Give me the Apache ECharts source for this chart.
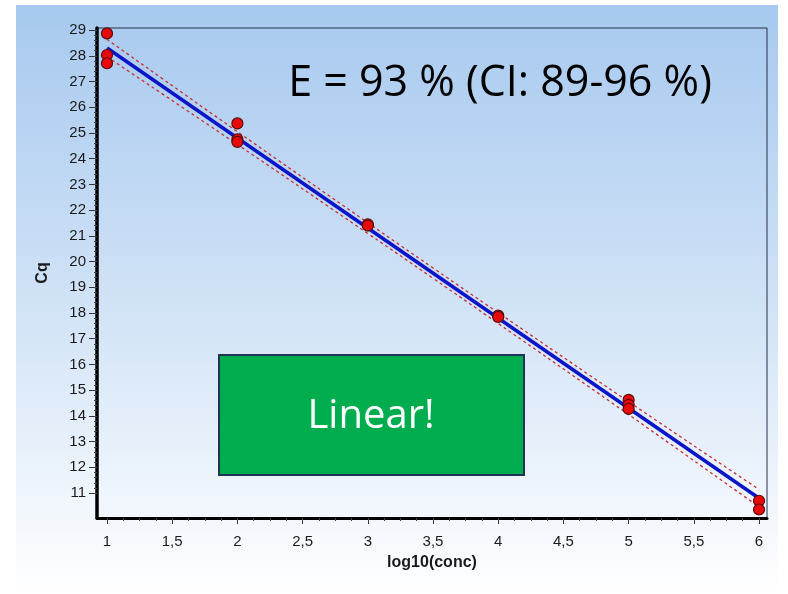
<!DOCTYPE html>
<html>
<head>
<meta charset="utf-8">
<script src="https://cdn.jsdelivr.net/npm/echarts@6/dist/echarts.min.js"></script>
<style>html,body{margin:0;padding:0;background:#fff}#c{width:788px;height:594px}</style>
</head>
<body>
<div id="c"></div>
<script>
// ---- data ----
const pointsX = [1, 1, 1, 2, 2, 2, 3, 3, 4, 4, 5, 5, 5, 6, 6];
const pointsCq = [28.87, 28.03, 27.71, 25.37, 24.75, 24.65, 21.45, 21.40, 17.90, 17.85, 14.62, 14.43, 14.27, 10.70, 10.36];
const fitX = [1, 6];
const fitCq = [28.30, 10.80];
const bandX = [1, 2, 3, 3.5, 4, 5, 6];
const bandUpper = [28.64, 25.05, 21.51, 19.75, 18.01, 14.55, 11.14];
const bandLower = [27.96, 24.55, 21.09, 19.35, 17.59, 14.05, 10.46];
const xTicks = [1, 1.5, 2, 2.5, 3, 3.5, 4, 4.5, 5, 5.5, 6];
const yTicks = [11, 12, 13, 14, 15, 16, 17, 18, 19, 20, 21, 22, 23, 24, 25, 26, 27, 28, 29];
const xMinorTicks = [];
for (let i = 0; i <= 40; i++) xMinorTicks.push(1 + i * 0.125);
const yMinorTicks = [];
for (let i = 0; i <= 90; i++) yMinorTicks.push(11 + i * 0.2);
const annotationText = 'E = 93 % (CI: 89-96 %)';
const boxText = 'Linear!';
const xName = 'log10(conc)';
const yName = 'Cq';

const zip = (a, b) => a.map((v, i) => [v, b[i]]);
const fmt = v => String(v).replace('.', ',');

const chart = echarts.init(document.getElementById('c'));
const X_MIN = 0.9233, X_MAX = 6.061, Y_MIN = 10.03, Y_MAX = 29.08;
const labelFont = { fontFamily: 'Liberation Sans', fontSize: 15, color: '#1a1a1a' };

chart.setOption({
  animation: false,
  backgroundColor: '#ffffff',
  graphic: [
    { type: 'rect', z: -10, shape: { x: 16, y: 5, width: 762, height: 589 },
      style: { fill: new echarts.graphic.LinearGradient(0, 0, 0, 1, [
        { offset: 0, color: '#a7c9ef' }, { offset: 0.5, color: '#d0e2f6' }, { offset: 1, color: '#ffffff' }]) } },
    { type: 'rect', z: 100, shape: { x: 219, y: 355, width: 305, height: 120 },
      style: { fill: '#00ad4e', stroke: '#1f3458', lineWidth: 2 } },
    { type: 'text', z: 101, x: 371, y: 417,
      style: { text: boxText, fill: '#ffffff', font: '40px "Open Sans"', textAlign: 'center', textVerticalAlign: 'middle' } },
    { type: 'text', z: 101, x: 500, y: 84,
      style: { text: annotationText, fill: '#000000', font: '43px "Open Sans"', textAlign: 'center', textVerticalAlign: 'middle' } }
  ],
  grid: { left: 97, top: 28, right: 21, bottom: 76, show: true, borderColor: '#26304a', borderWidth: 1, backgroundColor: 'transparent' },
  xAxis: [
    { type: 'value', min: X_MIN, max: X_MAX, position: 'bottom',
      name: xName, nameLocation: 'middle', nameGap: 37,
      nameTextStyle: { fontFamily: 'Liberation Sans', fontWeight: 'bold', fontSize: 16, color: '#1a1a1a' },
      axisLine: { show: true, onZero: false, lineStyle: { color: '#000', width: 3 } },
      axisTick: { show: true, length: 6, customValues: xTicks, lineStyle: { color: '#333', width: 1 } },
      axisLabel: { show: true, margin: 16, customValues: xTicks, formatter: fmt, ...labelFont },
      splitLine: { show: false } },
    { type: 'value', min: X_MIN, max: X_MAX, position: 'bottom',
      axisLine: { show: false, onZero: false },
      axisTick: { show: true, length: 3, customValues: xMinorTicks, lineStyle: { color: '#444', width: 1 } },
      axisLabel: { show: false }, splitLine: { show: false } }
  ],
  yAxis: [
    { type: 'value', min: Y_MIN, max: Y_MAX, position: 'left',
      name: yName, nameLocation: 'middle', nameGap: 46, nameRotate: 90,
      nameTextStyle: { fontFamily: 'Liberation Sans', fontWeight: 'bold', fontSize: 16, color: '#1a1a1a' },
      axisLine: { show: true, onZero: false, lineStyle: { color: '#000', width: 3.5 } },
      axisTick: { show: true, length: 8, customValues: yTicks, lineStyle: { color: '#333', width: 1 } },
      axisLabel: { show: true, margin: 11, customValues: yTicks, ...labelFont },
      splitLine: { show: false } },
    { type: 'value', min: Y_MIN, max: Y_MAX, position: 'left',
      axisLine: { show: false, onZero: false },
      axisTick: { show: true, length: 3, customValues: yMinorTicks, lineStyle: { color: '#444', width: 1 } },
      axisLabel: { show: false }, splitLine: { show: false } }
  ],
  series: [
    { type: 'line', data: zip(bandX, bandUpper), showSymbol: false, smooth: true, z: 3,
      lineStyle: { color: '#cc2a35', width: 1.3, type: [3, 3] } },
    { type: 'line', data: zip(bandX, bandLower), showSymbol: false, smooth: true, z: 3,
      lineStyle: { color: '#cc2a35', width: 1.3, type: [3, 3] } },
    { type: 'line', data: zip(fitX, fitCq), showSymbol: false, z: 4,
      lineStyle: { color: '#0a14c8', width: 3.5 } },
    { type: 'scatter', data: zip(pointsX, pointsCq), symbol: 'circle', symbolSize: 11, z: 5,
      itemStyle: { color: '#e80a0a', borderColor: '#5a0a0a', borderWidth: 1.2, opacity: 1 } }
  ]
});
</script>
</body>
</html>
